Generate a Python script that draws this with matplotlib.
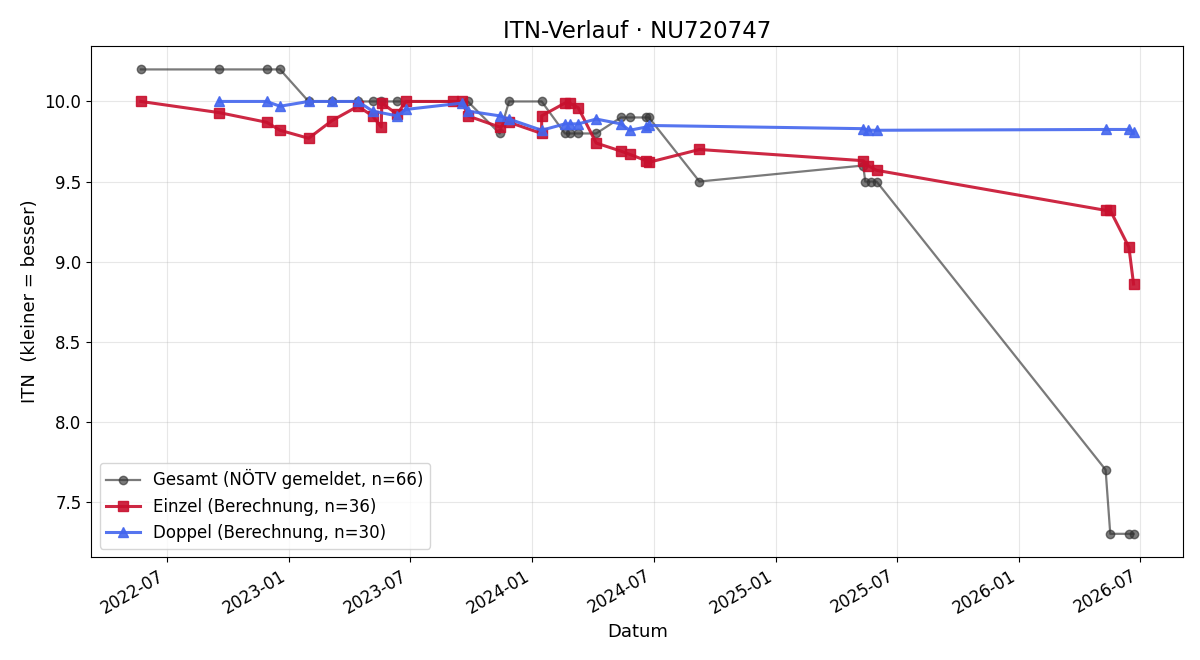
import matplotlib
matplotlib.use("Agg")
import matplotlib.pyplot as plt
import matplotlib.dates as mdates
import pandas as pd

title = "ITN-Verlauf · NU720747"

gesamt_dates = ["2022-05-23", "2022-09-18", "2022-11-28", "2022-12-18", "2023-01-30",
                "2023-03-06", "2023-04-14", "2023-05-06", "2023-05-19", "2023-06-12",
                "2023-09-26", "2023-11-13", "2023-11-27", "2024-01-15", "2024-02-19",
                "2024-02-26", "2024-03-10", "2024-04-06", "2024-05-13", "2024-05-26",
                "2024-06-20", "2024-06-24", "2024-09-08", "2025-05-12", "2025-05-15",
                "2025-05-24", "2025-06-01", "2026-05-11", "2026-05-18", "2026-06-15",
                "2026-06-22"]
gesamt_vals = [10.2, 10.2, 10.2, 10.2, 10.0,
               10.0, 10.0, 10.0, 10.0, 10.0,
               10.0, 9.8, 10.0, 10.0, 9.8,
               9.8, 9.8, 9.8, 9.9, 9.9,
               9.9, 9.9, 9.5, 9.6, 9.5,
               9.5, 9.5, 7.7, 7.3, 7.3,
               7.3]

einzel_dates = ["2022-05-23", "2022-09-18", "2022-11-28", "2022-12-18", "2023-01-30",
                "2023-03-06", "2023-04-14", "2023-05-06", "2023-05-19", "2023-05-20",
                "2023-06-12", "2023-06-25", "2023-09-04", "2023-09-18", "2023-09-26",
                "2023-11-13", "2023-11-27", "2024-01-15", "2024-01-15", "2024-02-19",
                "2024-02-26", "2024-03-10", "2024-04-06", "2024-05-13", "2024-05-26",
                "2024-06-20", "2024-06-24", "2024-09-08", "2025-05-12", "2025-05-19",
                "2025-06-01", "2026-05-11", "2026-05-18", "2026-06-15", "2026-06-22"]
einzel_vals = [10.00, 9.93, 9.87, 9.82, 9.77,
               9.88, 9.97, 9.91, 9.84, 9.99,
               9.92, 10.00, 10.00, 10.00, 9.91,
               9.84, 9.87, 9.80, 9.91, 9.99,
               9.99, 9.96, 9.74, 9.69, 9.67,
               9.63, 9.62, 9.70, 9.63, 9.60,
               9.57, 9.32, 9.32, 9.09, 8.86]

doppel_dates = ["2022-09-18", "2022-11-28", "2022-12-18", "2023-01-30", "2023-03-06",
                "2023-04-14", "2023-05-06", "2023-06-12", "2023-06-25", "2023-09-18",
                "2023-09-26", "2023-11-13", "2023-11-27", "2024-01-15", "2024-02-19",
                "2024-02-26", "2024-03-10", "2024-04-06", "2024-05-13", "2024-05-26",
                "2024-06-20", "2024-06-24", "2025-05-12", "2025-05-19", "2025-06-01",
                "2026-05-11", "2026-06-15", "2026-06-22"]
doppel_vals = [10.00, 10.00, 9.97, 10.00, 10.00,
               10.00, 9.94, 9.91, 9.95, 9.99,
               9.94, 9.91, 9.89, 9.82, 9.86,
               9.86, 9.86, 9.89, 9.86, 9.82,
               9.84, 9.85, 9.83, 9.82, 9.82,
               9.825, 9.825, 9.81]

labels = ["Gesamt (NÖTV gemeldet, n=66)",
          "Einzel (Berechnung, n=36)",
          "Doppel (Berechnung, n=30)"]

fig = plt.figure(figsize=(12, 6.6), dpi=100)
ax = fig.add_axes([0.076, 0.156, 0.910, 0.774])

ax.plot(pd.to_datetime(gesamt_dates), gesamt_vals, "-o", color="#333333", alpha=0.65,
        lw=1.6, ms=6, label=labels[0], zorder=2)
ax.plot(pd.to_datetime(einzel_dates), einzel_vals, "-s", color="#c8102e", alpha=0.9,
        lw=2.2, ms=7, label=labels[1], zorder=3)
ax.plot(pd.to_datetime(doppel_dates), doppel_vals, "-^", color="#4466ee", alpha=0.9,
        lw=2.2, ms=7, label=labels[2], zorder=4)

ax.set_title(title, fontsize=16.5)
ax.set_xlabel("Datum", fontsize=13)
ax.set_ylabel("ITN  (kleiner = besser)", fontsize=13)
ax.grid(True, alpha=0.3)
ax.xaxis.set_major_locator(mdates.MonthLocator(bymonth=[1, 7]))
ax.xaxis.set_major_formatter(mdates.DateFormatter("%Y-%m"))
for lbl in ax.get_xticklabels():
    lbl.set_rotation(30)
    lbl.set_ha("right")
ax.tick_params(labelsize=12)
ax.legend(loc="lower left", fontsize=12)

fig.savefig("out.png", dpi=100)
